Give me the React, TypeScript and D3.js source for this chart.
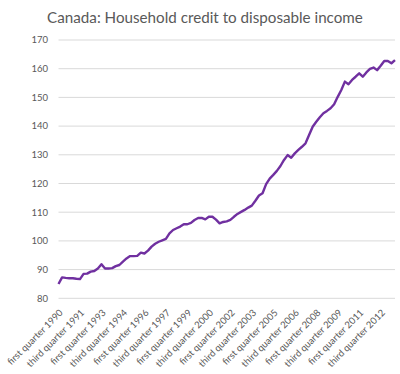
import React from "react";
import * as d3 from "d3";

const title = "Canada: Household credit to disposable income";

const startYear = 1990;
const quarterNames = ["first", "second", "third", "fourth"];

const values: number[] = [
  85.0, 87.3, 87.1, 87.0, 87.0, 86.8, 86.7, 88.5, 88.6, 89.3,
  89.5, 90.4, 91.9, 90.4, 90.4, 90.5, 91.2, 91.6, 92.8, 93.9,
  94.7, 94.7, 94.8, 95.9, 95.6, 96.6, 98.0, 99.0, 99.7, 100.2,
  100.7, 102.6, 103.8, 104.4, 105.0, 105.8, 105.8, 106.3, 107.3, 108.0,
  108.0, 107.5, 108.4, 108.4, 107.4, 106.1, 106.6, 106.8, 107.3, 108.4,
  109.4, 110.1, 110.8, 111.6, 112.3, 114.0, 115.8, 116.6, 119.8, 121.7,
  123.0, 124.4, 126.1, 128.2, 129.9, 129.0, 130.5, 131.7, 132.8, 134.0,
  136.9, 139.8, 141.5, 143.1, 144.5, 145.3, 146.2, 147.6, 150.2, 152.6,
  155.5, 154.6, 156.1, 157.2, 158.4, 157.2, 158.7, 159.9, 160.4, 159.5,
  161.0, 162.7, 162.7, 161.9, 163.0,
];

const categories: string[] = values.map(
  (_, i) => `${quarterNames[i % 4]} quarter ${startYear + Math.floor(i / 4)}`
);

const yTicks: number[] = [80, 90, 100, 110, 120, 130, 140, 150, 160, 170];
const labelEvery = 6;

export default function App() {
  const W = 400;
  const H = 374;
  const left = 58.5;
  const right = 395;
  const top = 40;
  const bottom = 298.3;

  const x = d3.scaleLinear().domain([0, values.length - 1]).range([left, right]);
  const y = d3.scaleLinear().domain([80, 170]).range([bottom, top]);

  const line = d3
    .line<number>()
    .x((_, i) => x(i))
    .y((d) => y(d))
    .curve(d3.curveLinear);

  const labelIdx = categories.map((_, i) => i).filter((i) => i % labelEvery === 0);

  return (
    <svg
      width={W}
      height={H}
      style={{ position: "absolute", left: 0, top: 0, background: "#fff" }}
      fontFamily="Lato, 'Open Sans', sans-serif"
    >
      <text x={205} y={23} textAnchor="middle" fontSize={15.2} fill="#595959">
        {title}
      </text>
      {yTicks.map((t) => (
        <g key={t}>
          <line x1={left} x2={right} y1={y(t)} y2={y(t)} stroke="#d9d9d9" strokeWidth={1} />
          <text x={48} y={y(t)} dy="0.35em" textAnchor="end" fontSize={9.5} fill="#595959">
            {t}
          </text>
        </g>
      ))}
      <path d={line(values) || ""} fill="none" stroke="#7030a0" strokeWidth={2.4} strokeLinejoin="round" />
      {labelIdx.map((i) => (
        <text
          key={i}
          transform={`translate(${x(i) + 5},${bottom + 15}) rotate(-45)`}
          textAnchor="end"
          fontSize={9.5}
          fill="#595959"
        >
          {categories[i]}
        </text>
      ))}
    </svg>
  );
}
